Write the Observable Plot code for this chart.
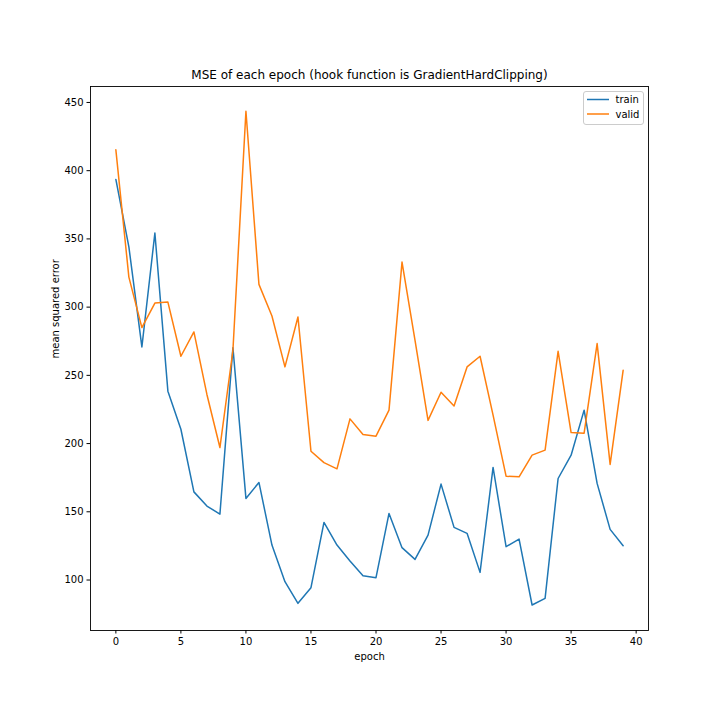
<!DOCTYPE html>
<html>
<head>
<meta charset="utf-8">
<script src="https://cdn.jsdelivr.net/npm/d3@7"></script>
<script src="https://cdn.jsdelivr.net/npm/@observablehq/plot@0.6"></script>
<style>
  html, body { margin: 0; padding: 0; background: #fff; }
  #chart svg { font-family: "DejaVu Sans", sans-serif; display: block; }
</style>
</head>
<body>
<div id="chart"></div>
<script>
const epochs = d3.range(40);
const train = [393.6, 344.2, 270.8, 354.3, 238.4, 210.5, 164.6, 154.2, 148.3, 270.3,
  159.8, 171.5, 125.6, 98.8, 82.9, 94.4, 142.2, 125.6, 114, 103.2,
  101.7, 148.8, 123.7, 115.1, 132.9, 170.3, 138.6, 134.2, 105.6, 182.5,
  124.4, 130, 81.7, 86.6, 174.4, 191.5, 224.5, 170.8, 137.1, 125.1];
const valid = [415.3, 322, 285, 303, 303.7, 264, 281.8, 236, 197.1, 268.4,
  443.6, 316.7, 293.5, 256.2, 292.8, 194.4, 186, 181.5, 218.1, 206.6,
  205.4, 224.5, 333, 275.7, 217, 237.6, 227.6, 256.2, 264, 220.8,
  176.1, 175.6, 191.5, 195.2, 267.6, 208.1, 207.6, 273.3, 184.7, 253.7];
const seriesNames = ["train", "valid"];
const seriesColors = ["#1f77b4", "#ff7f0e"];
const xTicks = [0, 5, 10, 15, 20, 25, 30, 35, 40];
const yTicks = [100, 150, 200, 250, 300, 350, 400, 450];
const titleText = "MSE of each epoch (hook function is GradientHardClipping)";

const rows = [];
epochs.forEach((e, i) => {
  rows.push({epoch: e, value: train[i], series: "train"});
  rows.push({epoch: e, value: valid[i], series: "valid"});
});

const chart = Plot.plot({
  width: 720,
  height: 720,
  marginLeft: 90,
  marginRight: 72,
  marginTop: 86,
  marginBottom: 90,
  style: {fontFamily: "DejaVu Sans, sans-serif", fontSize: "10px", color: "#000", background: "#fff"},
  x: {domain: [-1.95, 40.95]},
  y: {domain: [63, 461.7]},
  color: {domain: seriesNames, range: seriesColors},
  marks: [
    Plot.axisX({ticks: xTicks, tickSize: 3.5, tickPadding: 3.5, fontSize: 10, label: null, stroke: "#000"}),
    Plot.axisY({ticks: yTicks, tickSize: 3.5, tickPadding: 3.5, fontSize: 10, label: null, stroke: "#000"}),
    Plot.line(rows, {x: "epoch", y: "value", z: "series", stroke: "series", strokeWidth: 1.5, strokeLinejoin: "round"}),
    Plot.frame({stroke: "#000", strokeWidth: 0.9}),
    Plot.text([titleText], {frameAnchor: "top", dy: -8, text: d => d, fontSize: 12, lineAnchor: "bottom", textAnchor: "middle", fill: "#000"}),
    Plot.text(["epoch"], {frameAnchor: "bottom", dy: 26, text: d => d, fontSize: 10, lineAnchor: "middle", fill: "#000"}),
    Plot.text(["mean squared error"], {frameAnchor: "left", dx: -35, text: d => d, fontSize: 10, rotate: -90, lineAnchor: "middle", fill: "#000"})
  ]
});

document.getElementById("chart").appendChild(chart);

// legend (upper right), matplotlib style
const svg = d3.select(chart);
const lg = svg.append("g").attr("class", "legend").attr("text-anchor", "start");
const boxX = 583.5, boxY = 91.5, boxW = 60, boxH = 33;
lg.append("rect").attr("x", boxX).attr("y", boxY).attr("width", boxW).attr("height", boxH)
  .attr("rx", 2.5).attr("ry", 2.5)
  .style("fill", "#ffffff").style("stroke", "#cccccc").style("stroke-width", "1px");
seriesNames.forEach((name, i) => {
  const y = boxY + 8 + i * 14.5;
  lg.append("line").attr("x1", boxX + 3.5).attr("x2", boxX + 25.5).attr("y1", y).attr("y2", y)
    .style("stroke", seriesColors[i]).style("stroke-width", "1.5px");
  lg.append("text").attr("x", boxX + 32).attr("y", y).attr("dy", "0.35em")
    .attr("text-anchor", "start")
    .style("font-size", "10px").style("fill", "#000").text(name);
});
</script>
</body>
</html>
